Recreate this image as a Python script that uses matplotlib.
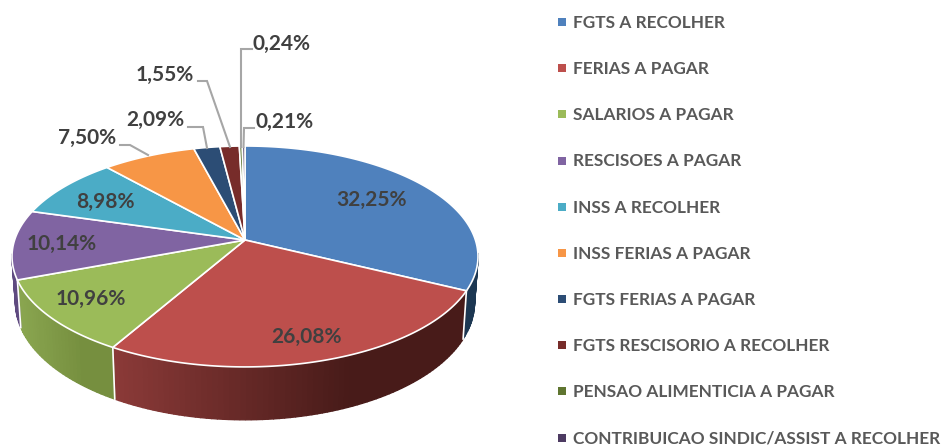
import numpy as np
import matplotlib
matplotlib.use("Agg")
import matplotlib.pyplot as plt
from matplotlib.colors import to_rgb

names = ["FGTS A RECOLHER", "FERIAS A PAGAR", "SALARIOS A PAGAR", "RESCISOES A PAGAR",
         "INSS A RECOLHER", "INSS FERIAS A PAGAR", "FGTS FERIAS A PAGAR",
         "FGTS RESCISORIO A RECOLHER", "PENSAO ALIMENTICIA A PAGAR",
         "CONTRIBUICAO SINDIC/ASSIST A RECOLHER"]
values = [32.25, 26.08, 10.96, 10.14, 8.98, 7.50, 2.09, 1.55, 0.24, 0.21]
colors = ["#4f81bd", "#bd4f4c", "#9bbb59", "#8064a2", "#4bacc6",
          "#f79646", "#2c4d75", "#772c2a", "#5f7530", "#4d3b62"]
# wall shade left -> right, by slice
wall_left = ["#1c3752", "#8b3a38", "#8aa650", "#5f4a80", "#33788c",
             "#b06a30", "#1c3752", "#4e1c1b", "#3e4d20", "#332740"]
wall_right = ["#1c3752", "#481b19", "#768f3f", "#5f4a80", "#33788c",
              "#b06a30", "#1c3752", "#4e1c1b", "#3e4d20", "#332740"]
# (label centre, leader line points), pixels on the picture
label_pos = [(372, 200), (307, 337), (91, 299), (62, 244), (105, 202),
             (87, 138), (155, 120), (165, 75), (282, 44), (285, 122)]
leaders = {5: [(120, 145), (130, 145), (148, 155)],
           6: [(188, 127), (203, 127), (207, 148)],
           7: [(198, 81), (207, 81), (230, 147)],
           8: [(252, 49), (241, 49), (241, 147)],
           9: [(254, 128), (244, 128), (243.5, 147)]}

# perspective of the pie
cx, cy = 245, 240
a, b, k = 230.4, 108, 0.149
depth = 45
shrink = 0.985


def top_xy(theta):
    u, v = np.sin(theta), np.cos(theta)
    d = 1 + k * v
    return cx + a * u / d, cy - b * v / d


def low_xy(theta):
    x, y = top_xy(theta)
    d = 1 + k * np.cos(theta)
    return cx + (x - cx) * shrink, y + depth / d


fig = plt.figure(figsize=(9.41, 4.46), dpi=100)
ax = fig.add_axes([0, 0, 1, 1])
ax.set_xlim(0, 941)
ax.set_ylim(446, 0)
ax.axis("off")

edges = np.radians(np.cumsum([0] + values) * 3.6)

# walls, only the front part can be seen
for i in range(len(values)):
    t = np.linspace(edges[i], edges[i + 1], max(int(values[i] * 3), 2) + 1)
    xs, ys = top_xy(t)
    xl, yl = low_xy(t)
    x0, x1 = xs.min(), xs.max()
    c0, c1 = np.array(to_rgb(wall_left[i])), np.array(to_rgb(wall_right[i]))
    for j in range(len(t) - 1):
        if np.cos((t[j] + t[j + 1]) / 2) > -0.12:
            continue
        f = ((xs[j] + xs[j + 1]) / 2 - x0) / (x1 - x0) if x1 > x0 else 0
        f = min(f * 1.5, 1)  # the red wall reaches its dark tone early
        c = c0 + (c1 - c0) * f
        ax.fill([xs[j], xs[j + 1], xl[j + 1], xl[j]], [ys[j], ys[j + 1], yl[j + 1], yl[j]],
                facecolor=c, edgecolor=c, lw=1.0, zorder=1)

# white seams on the wall
for th in edges[:-1]:
    if np.cos(th) < 0:
        x1, y1 = top_xy(th)
        x2, y2 = low_xy(th)
        ax.plot([x1, x2], [y1, y2], color="white", lw=1.2, zorder=2)

# top face
for i in range(len(values)):
    t = np.linspace(edges[i], edges[i + 1], max(int(values[i] * 4), 2) + 1)
    xs, ys = top_xy(t)
    ax.fill(np.r_[cx, xs], np.r_[cy, ys], facecolor=colors[i], edgecolor="white",
            lw=1.2, joinstyle="round", zorder=3)

# data labels
for i, v in enumerate(values):
    ax.text(label_pos[i][0], label_pos[i][1], f"{v:.2f}%".replace(".", ","), family="Lato",
            weight="bold", size=15, color="#404040", ha="center", va="center", zorder=5)
for pts in leaders.values():
    ax.plot(*zip(*pts), color="#a6a6a6", lw=1.5, zorder=4, solid_joinstyle="miter")

# legend
leg_y = np.linspace(23, 438.5, len(names))
for i, name in enumerate(names):
    ax.scatter([562], [leg_y[i] - 1], marker="s", s=33, color=colors[i], linewidths=0, zorder=5)
    ax.text(573, leg_y[i], name, family="Lato", weight="bold", size=12.4, color="#595959",
            ha="left", va="center", zorder=5)

fig.savefig("out.png", dpi=100)
